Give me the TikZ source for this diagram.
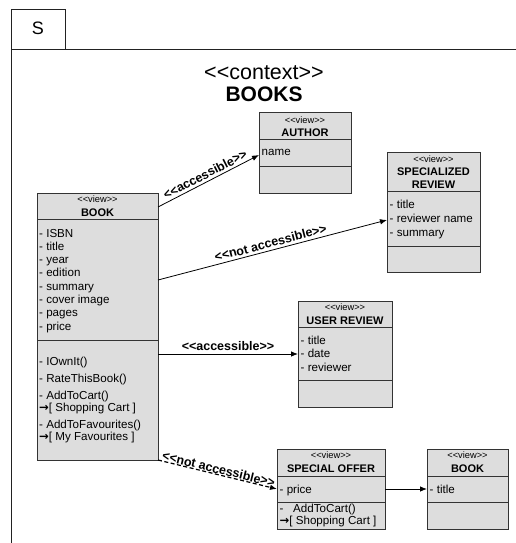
\documentclass[tikz,border=0pt]{standalone}
\usepackage{fontspec}
\setmainfont{Liberation Sans}
\newfontfamily\arrowfont{DejaVu Sans}
\usetikzlibrary{arrows.meta}

\definecolor{boxfill}{HTML}{DDDDDD}
\definecolor{boxline}{HTML}{333333}
\definecolor{frameline}{HTML}{222222}

% guillemet-free double angle brackets (the kern keeps the font mapping from merging them)
\newcommand\dlt{<\kern0pt<}
\newcommand\dgt{>\kern0pt>}
\newcommand\navto{{\arrowfont\bfseries →}}

\begin{document}
\begin{tikzpicture}[x=1pt,y=-1pt,
  umlbox/.style={draw=boxline, fill=boxfill, line width=0.9pt, rectangle,
                 inner sep=0pt, outer sep=0pt, anchor=north west},
  sepline/.style={draw=boxline, line width=0.9pt},
  stereo/.style={font=\fontsize{9.3}{10}\selectfont, inner sep=0pt, anchor=base},
  cname/.style={font=\fontsize{11}{13}\bfseries\selectfont, inner sep=0pt, anchor=base},
  item/.style={font=\fontsize{11.6}{13}\selectfont, inner sep=0pt, anchor=base west},
  conn/.style={-{Latex[length=7pt,width=5.5pt]}, line width=0.8pt, draw=black},
  rel/.style={font=\fontsize{12.5}{14}\bfseries\selectfont, sloped, above, inner sep=2.5pt},
  frame/.style={draw=frameline, line width=1pt}
]
\useasboundingbox (0,0) rectangle (516,543);

% diagram frame with its tab
\node[frame, rectangle, anchor=north west, minimum width=54pt, minimum height=40pt,
      inner sep=0pt, outer sep=0pt] (tab) at (11,10) {};
\node[font=\fontsize{18}{20}\selectfont, anchor=base] (tabtxt) at (38,35) {S};
\draw[frame] (tab.south west) -- (516,50);
\draw[frame] (tab.north west) -- (11,543);

% title
\node[font=\fontsize{21.5}{23}\selectfont, anchor=base] (ctx) at (264,79) {\dlt context\dgt};
\node[font=\fontsize{21}{23}\bfseries\selectfont, anchor=base] (ttl) at (264,101) {BOOKS};

% ---------- BOOK ----------
\node[umlbox, minimum width=121pt, minimum height=267pt] (book) at (37,193) {};
\draw[sepline] (37,219) -- (158,219);
\draw[sepline] (37,340) -- (158,340);
\node[stereo] (bookst) at (97.5,202.5) {\dlt view\dgt};
\node[cname] (booknm) at (97.5,216.5) {BOOK};
\foreach \t [count=\i] in {ISBN,title,year,edition,summary,cover image,pages,price}
  \node[item] (bookat\i) at (39,237+13.3*\i-13.3) {- \t};
\node[item] (bookop1) at (39,365) {- IOwnIt()};
\node[item] (bookop2) at (39,382) {- RateThisBook()};
\node[item] (bookop3) at (39,399) {- AddToCart()};
\node[item] (bookop4) at (39,411) {\navto[ Shopping Cart ]};
\node[item] (bookop5) at (39,428.5) {- AddToFavourites()};
\node[item] (bookop6) at (39,440) {\navto[ My Favourites ]};

% ---------- AUTHOR ----------
\node[umlbox, minimum width=92pt, minimum height=81pt] (author) at (259,112) {};
\draw[sepline] (259,139) -- (351,139);
\draw[sepline] (259,166) -- (351,166);
\node[stereo] (authst) at (305,123) {\dlt view\dgt};
\node[cname] (authnm) at (305,136.5) {AUTHOR};
\node[item] (authat1) at (261.5,155) {name};

% ---------- SPECIALIZED REVIEW ----------
\node[umlbox, minimum width=93pt, minimum height=120pt] (spec) at (387,152) {};
\draw[sepline] (387,191) -- (480,191);
\draw[sepline] (387,246) -- (480,246);
\node[stereo] (specst) at (433.5,162) {\dlt view\dgt};
\node[cname] (specnm1) at (433.5,175) {SPECIALIZED};
\node[cname] (specnm2) at (433.5,188) {REVIEW};
\node[item] (specat1) at (389.5,208.5) {- title};
\node[item] (specat2) at (389.5,222.5) {- reviewer name};
\node[item] (specat3) at (389.5,236.5) {- summary};

% ---------- USER REVIEW ----------
\node[umlbox, minimum width=94pt, minimum height=106pt] (userrev) at (298,301) {};
\draw[sepline] (298,327) -- (392,327);
\draw[sepline] (298,380) -- (392,380);
\node[stereo] (userst) at (345,310) {\dlt view\dgt};
\node[cname] (usernm) at (345,324) {USER REVIEW};
\node[item] (userat1) at (300.5,344) {- title};
\node[item] (userat2) at (300.5,357.5) {- date};
\node[item] (userat3) at (300.5,371) {- reviewer};

% ---------- SPECIAL OFFER ----------
\node[umlbox, minimum width=108pt, minimum height=80pt] (offer) at (277,449) {};
\draw[sepline] (277,476) -- (385,476);
\draw[sepline] (277,502) -- (385,502);
\node[stereo] (offst) at (331,458.5) {\dlt view\dgt};
\node[cname] (offnm) at (331,472.5) {SPECIAL OFFER};
\node[item] (offat1) at (279.5,493) {- price};
\node[item] (offop1) at (279.5,512) {-\ \ \ AddToCart()};
\node[item] (offop2) at (279.5,524) {\navto[ Shopping Cart ]};

% ---------- BOOK (referenced by the offer) ----------
\node[umlbox, minimum width=81pt, minimum height=80pt] (book2) at (427,449) {};
\draw[sepline] (427,476) -- (508,476);
\draw[sepline] (427,502) -- (508,502);
\node[stereo] (book2st) at (467.5,458.5) {\dlt view\dgt};
\node[cname] (book2nm) at (467.5,472.5) {BOOK};
\node[item] (book2at1) at (429.5,493) {- title};

% ---------- navigation links ----------
\draw[conn] (book.east |- 0,207) -- node[rel] (l1) {\dlt accessible\dgt} (author.west |- 0,155);
\draw[conn] (book.east |- 0,280) -- node[rel] (l2) {\dlt not accessible\dgt} (spec.west |- 0,220);
\draw[conn] (book.east |- 0,354) -- node[rel] (l3) {\dlt accessible\dgt} (userrev.west |- 0,354);
\draw[conn, line width=1.2pt, dash pattern=on 4pt off 2.5pt]
  (book.south east) -- node[rel, inner sep=0.3pt] (l4) {\dlt not accessible\dgt} (offer.west |- 0,489);
\draw[conn] (offer.east |- 0,489) -- (book2.west |- 0,489);
\end{tikzpicture}
\end{document}
